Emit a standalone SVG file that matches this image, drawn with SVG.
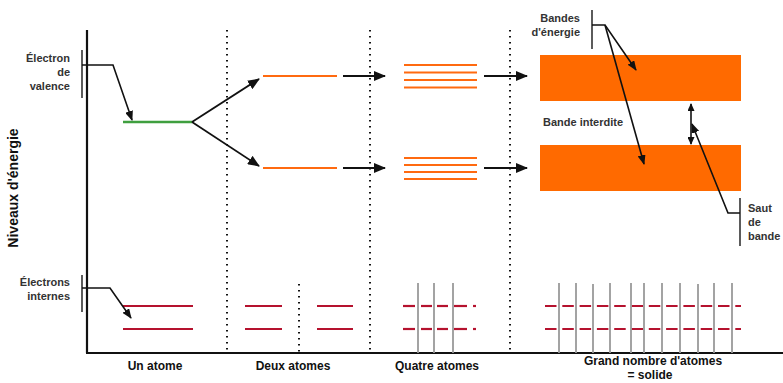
<svg xmlns="http://www.w3.org/2000/svg" width="783" height="383" viewBox="0 0 783 383">
  <defs>
    <marker id="head" viewBox="0 0 10 8" refX="9" refY="4" markerWidth="10" markerHeight="8" markerUnits="userSpaceOnUse" orient="auto">
      <path d="M0,0 L10,4 L0,8 z" fill="#111"/>
    </marker>
    <marker id="headBig" viewBox="0 0 12 10" refX="11" refY="5" markerWidth="12" markerHeight="10" markerUnits="userSpaceOnUse" orient="auto">
      <path d="M0,0 L12,5 L0,10 z" fill="#111"/>
    </marker>
    <marker id="headSmall" viewBox="0 0 8 7" refX="7" refY="3.5" markerWidth="8" markerHeight="7" markerUnits="userSpaceOnUse" orient="auto-start-reverse">
      <path d="M0,0 L8,3.5 L0,7 z" fill="#111"/>
    </marker>
  </defs>
  <style>
    text { font-family: "Liberation Sans", Arial, sans-serif; font-weight: bold; }
    .lbl { font-size: 11px; fill: #333; }
    .cap { font-size: 12px; fill: #111; }
    .axis { stroke: #111; stroke-width: 2.2; fill: none; }
    .dots { stroke: #111; stroke-width: 2; stroke-dasharray: 1.6 4.4; fill: none; }
    .brk { stroke: #333; stroke-width: 1.6; fill: none; }
    .link { stroke: #111; stroke-width: 1.6; fill: none; }
    .big { stroke: #111; stroke-width: 1.8; fill: none; }
    .orange { stroke: #ff6a10; stroke-width: 2.2; }
    .inner { stroke: #b5122e; stroke-width: 2.2; }
    .grey { stroke: #999; stroke-width: 1.8; }
    .band { fill: #ff6a00; }
  </style>

  <!-- axes -->
  <g id="axes">
    <line class="axis" x1="87" y1="30" x2="87" y2="353"/>
    <line class="axis" x1="86" y1="353" x2="783" y2="353"/>
    <text x="0" y="0" font-size="14" fill="#111" text-anchor="middle" transform="translate(18,188) rotate(-90)">Niveaux d'énergie</text>
  </g>

  <!-- column separators -->
  <g id="separators">
    <line class="dots" x1="227" y1="30" x2="227" y2="353"/>
    <line class="dots" x1="370" y1="30" x2="370" y2="353"/>
    <line class="dots" x1="510" y1="30" x2="510" y2="353"/>
    <line class="dots" x1="299" y1="284" x2="299" y2="353"/>
  </g>

  <!-- single atom -->
  <g id="un-atome">
    <line x1="123" y1="122" x2="192" y2="122" stroke="#3f9f3f" stroke-width="2.4"/>
    <line class="inner" x1="123" y1="306" x2="193" y2="306"/>
    <line class="inner" x1="123" y1="329" x2="193" y2="329"/>
    <text class="cap" x="155" y="370" text-anchor="middle">Un atome</text>
  </g>

  <!-- two atoms -->
  <g id="deux-atomes">
    <line class="orange" x1="263" y1="76" x2="337" y2="76"/>
    <line class="orange" x1="263" y1="168" x2="337" y2="168"/>
    <line class="inner" x1="245" y1="306" x2="282" y2="306"/>
    <line class="inner" x1="245" y1="329" x2="282" y2="329"/>
    <line class="inner" x1="317" y1="306" x2="353" y2="306"/>
    <line class="inner" x1="317" y1="329" x2="353" y2="329"/>
    <text class="cap" x="293" y="370" text-anchor="middle">Deux atomes</text>
  </g>

  <!-- four atoms -->
  <g id="quatre-atomes">
    <line class="orange" x1="404" y1="65" x2="477" y2="65"/>
    <line class="orange" x1="404" y1="72.5" x2="477" y2="72.5"/>
    <line class="orange" x1="404" y1="80" x2="477" y2="80"/>
    <line class="orange" x1="404" y1="87.5" x2="477" y2="87.5"/>
    <line class="orange" x1="404" y1="158" x2="477" y2="158"/>
    <line class="orange" x1="404" y1="165" x2="477" y2="165"/>
    <line class="orange" x1="404" y1="172" x2="477" y2="172"/>
    <line class="orange" x1="404" y1="179" x2="477" y2="179"/>
    <g class="inner">
      <line x1="403" y1="306" x2="415" y2="306"/>
      <line x1="421" y1="306" x2="432" y2="306"/>
      <line x1="437" y1="306" x2="448" y2="306"/>
      <line x1="454" y1="306" x2="467" y2="306"/>
      <line x1="473" y1="306" x2="476" y2="306"/>
      <line x1="403" y1="329" x2="415" y2="329"/>
      <line x1="421" y1="329" x2="432" y2="329"/>
      <line x1="437" y1="329" x2="448" y2="329"/>
      <line x1="454" y1="329" x2="467" y2="329"/>
      <line x1="473" y1="329" x2="476" y2="329"/>
    </g>
    <g class="grey">
      <line x1="418" y1="283" x2="418" y2="353"/>
      <line x1="434" y1="283" x2="434" y2="353"/>
      <line x1="453" y1="283" x2="453" y2="353"/>
    </g>
    <text class="cap" x="437" y="370" text-anchor="middle">Quatre atomes</text>
  </g>

  <!-- many atoms: solid -->
  <g id="solide">
    <rect class="band" x="540" y="55" width="201" height="46"/>
    <rect class="band" x="540" y="145" width="201" height="46"/>
    <line class="inner" x1="545" y1="306" x2="741" y2="306" stroke-dasharray="11.5 5.8"/>
    <line class="inner" x1="545" y1="329" x2="741" y2="329" stroke-dasharray="11.5 5.8"/>
    <g class="grey">
      <line x1="559" y1="283" x2="559" y2="353"/>
      <line x1="576" y1="283" x2="576" y2="353"/>
      <line x1="593" y1="284" x2="593" y2="353"/>
      <line x1="610" y1="283" x2="610" y2="353"/>
      <line x1="631" y1="283" x2="631" y2="353"/>
      <line x1="644" y1="283" x2="644" y2="353"/>
      <line x1="662" y1="283" x2="662" y2="353"/>
      <line x1="680" y1="283" x2="680" y2="353"/>
      <line x1="698" y1="284" x2="698" y2="353"/>
      <line x1="714" y1="283" x2="714" y2="353"/>
      <line x1="732" y1="283" x2="732" y2="353"/>
    </g>
    <text class="cap" x="653" y="365" text-anchor="middle">Grand nombre d'atomes</text>
    <text class="cap" x="650" y="379" text-anchor="middle">= solide</text>
  </g>

  <!-- side labels with brackets -->
  <g id="label-valence">
    <text class="lbl" x="70" y="62" text-anchor="end">Électron</text>
    <text class="lbl" x="70" y="76" text-anchor="end">de</text>
    <text class="lbl" x="70" y="90" text-anchor="end">valence</text>
    <line class="brk" x1="82" y1="50" x2="82" y2="98"/>
  </g>
  <g id="label-internes">
    <text class="lbl" x="70" y="286" text-anchor="end">Électrons</text>
    <text class="lbl" x="70" y="300" text-anchor="end">internes</text>
    <line class="brk" x1="82" y1="275" x2="82" y2="312"/>
  </g>
  <g id="label-bandes">
    <text class="lbl" x="580" y="22" text-anchor="end">Bandes</text>
    <text class="lbl" x="580" y="36" text-anchor="end">d'énergie</text>
    <line class="brk" x1="592" y1="10" x2="592" y2="49"/>
  </g>
  <g id="label-interdite">
    <text class="lbl" x="543" y="126">Bande interdite</text>
  </g>
  <g id="label-saut">
    <text class="lbl" x="748" y="212">Saut</text>
    <text class="lbl" x="748" y="226">de</text>
    <text class="lbl" x="748" y="240">bande</text>
    <line class="brk" x1="740" y1="198" x2="740" y2="246"/>
  </g>

  <!-- connectors -->
  <g id="connectors">
    <polyline class="link" points="82,65 113,65 132,120" marker-end="url(#head)"/>
    <polyline class="link" points="82,288 110,288 131,318" marker-end="url(#head)"/>
    <line class="big" x1="192" y1="122" x2="259" y2="79" marker-end="url(#headBig)"/>
    <line class="big" x1="192" y1="122" x2="259" y2="166" marker-end="url(#headBig)"/>
    <line class="big" x1="343" y1="76" x2="385" y2="76" marker-end="url(#headBig)"/>
    <line class="big" x1="343" y1="168" x2="385" y2="168" marker-end="url(#headBig)"/>
    <line class="big" x1="484" y1="76" x2="527" y2="76" marker-end="url(#headBig)"/>
    <line class="big" x1="484" y1="168" x2="527" y2="168" marker-end="url(#headBig)"/>
    <polyline class="link" points="592,25 605,25 636,70" marker-end="url(#head)"/>
    <line class="link" x1="605" y1="25" x2="644" y2="164" marker-end="url(#head)"/>
    <line class="link" x1="691" y1="104" x2="691" y2="144" marker-start="url(#headSmall)" marker-end="url(#headSmall)"/>
    <polyline class="link" points="740,213 728,213 692,124" marker-end="url(#head)"/>
  </g>
</svg>
